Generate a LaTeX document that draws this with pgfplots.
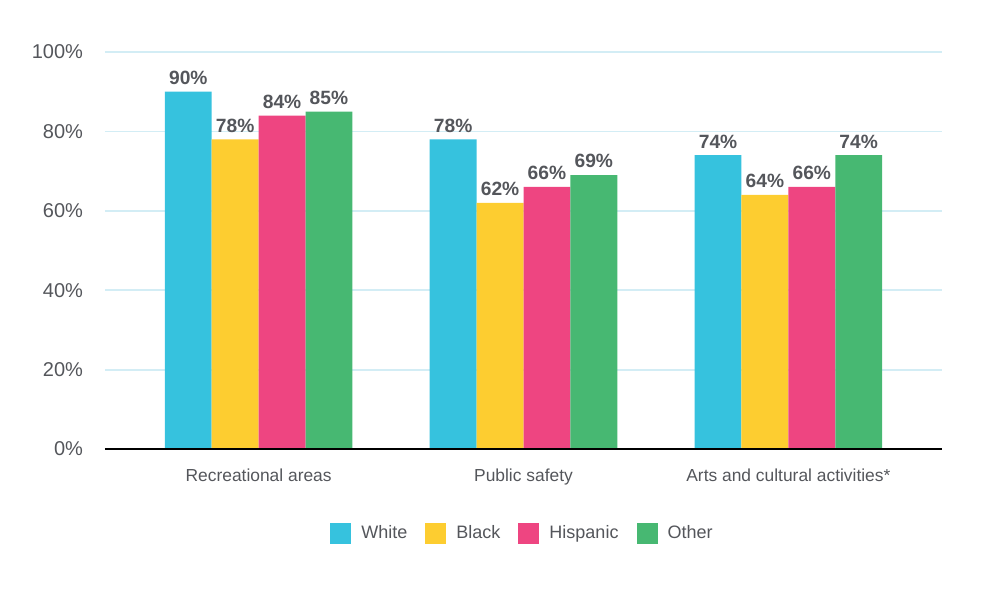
\documentclass[border=0pt]{standalone}
\usepackage{pgfplots}
\pgfplotsset{compat=1.18}
\usepackage{fontspec}
\setmainfont{Liberation Sans}
\definecolor{cWhite}{HTML}{36C2DE}
\definecolor{cBlack}{HTML}{FDCD30}
\definecolor{cHisp}{HTML}{EE4581}
\definecolor{cOther}{HTML}{47B872}
\definecolor{txt}{HTML}{54565B}
\definecolor{gridc}{HTML}{D3EDF5}
\begin{document}
\begin{tikzpicture}
\begin{axis}[
  scale only axis,
  width=418.5pt, height=198.5pt,
  ybar=0pt, bar width=0.177,
  xmin=-0.58, xmax=2.58,
  ymin=0, ymax=100,
  xtick={0,1,2},
  xticklabels={Recreational areas,Public safety,Arts and cultural activities*},
  ytick={0,20,40,60,80,100},
  yticklabel={\pgfmathprintnumber{\tick}\%},
  /pgf/number format/assume math mode=true,
  ymajorgrids, grid style={gridc, line width=0.9pt},
  axis line style={draw=none},
  major tick length=0pt,
  tick label style={text=txt},
  yticklabel style={font=\fontsize{10}{12}\selectfont, xshift=-7.5pt},
  xticklabel style={font=\fontsize{8.7}{10}\selectfont, yshift=-6.5pt},
  nodes near coords={\pgfmathprintnumber{\pgfplotspointmeta}\%},
  nodes near coords style={font=\bfseries\fontsize{9.6}{11}\selectfont, text=txt, yshift=0pt},
  legend style={at={(0.5,-0.2116)}, anchor=center, draw=none, font=\fontsize{9}{11}\selectfont, text=txt,
    /tikz/every even column/.append style={column sep=7pt}},
  legend columns=4,
  legend image code/.code={\fill[#1] (0pt,-5.25pt) rectangle (10.5pt,5.25pt); \path (13.5pt,0pt);},
  clip=false,
]
\addplot[fill=cWhite, draw=none] coordinates {(0,90) (1,78) (2,74)};
\addplot[fill=cBlack, draw=none] coordinates {(0,78) (1,62) (2,64)};
\addplot[fill=cHisp, draw=none] coordinates {(0,84) (1,66) (2,66)};
\addplot[fill=cOther, draw=none] coordinates {(0,85) (1,69) (2,74)};
\legend{White,Black,Hispanic,Other}
\draw[black, line width=1pt] (rel axis cs:0,0) -- (rel axis cs:1,0);
\end{axis}
\pgfresetboundingbox
\useasboundingbox (current axis.south west) ++(-52.5pt,-70.5pt) rectangle ([xshift=25pt,yshift=26pt]current axis.north east);
\end{tikzpicture}
\end{document}
